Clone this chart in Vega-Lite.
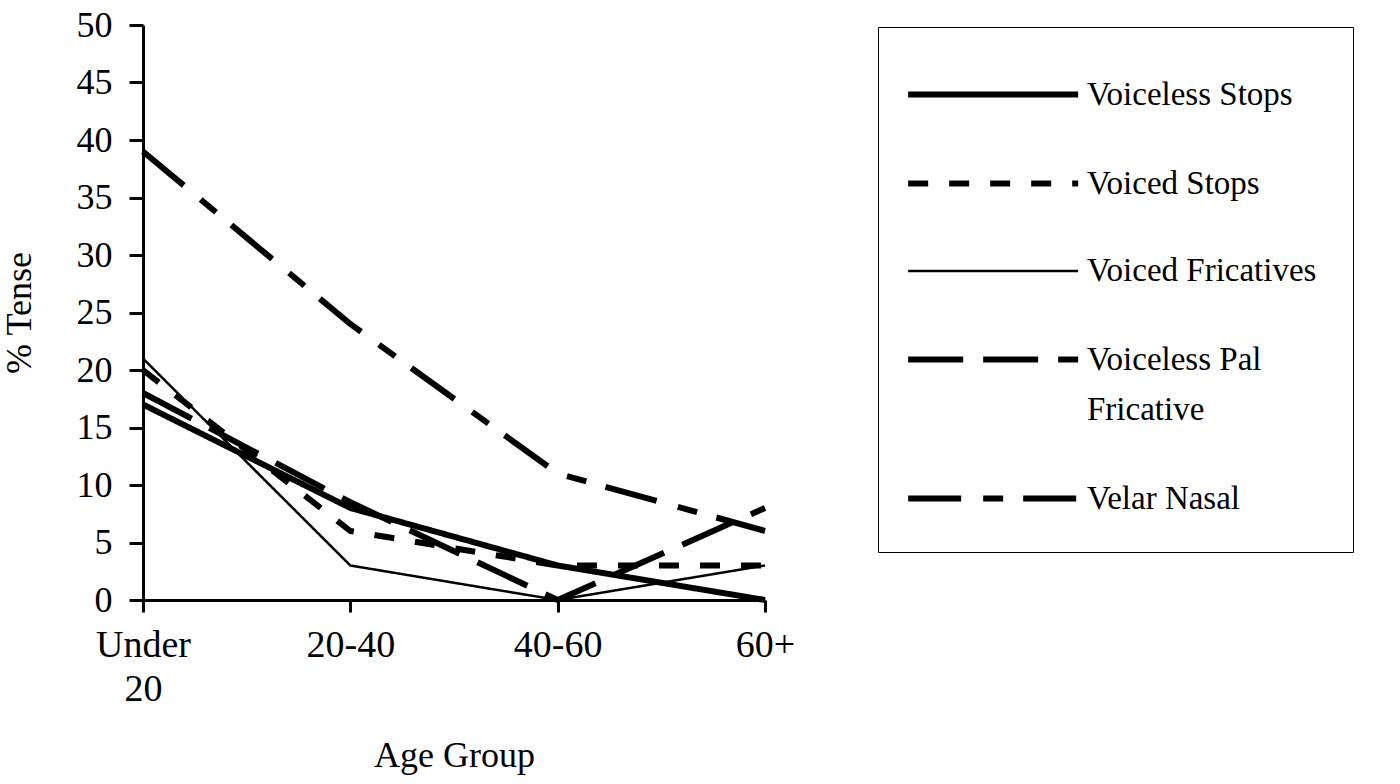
{
  "$schema": "https://vega.github.io/schema/vega-lite/v6.json",
  "width": 622,
  "height": 575,
  "autosize": {"type": "none"},
  "padding": {"left": 143, "top": 25, "right": 635, "bottom": 184},
  "background": "white",
  "config": {"view": {"stroke": null}, "font": "Liberation Serif", "style": {"guide-label": {"lineHeight": 50}}},
  "data": {
    "values": [
      {"series": "Voiceless Stops", "age": "Under 20", "pct": 17},
      {"series": "Voiceless Stops", "age": "20-40", "pct": 8},
      {"series": "Voiceless Stops", "age": "40-60", "pct": 3},
      {"series": "Voiceless Stops", "age": "60+", "pct": 0},
      {"series": "Voiced Stops", "age": "Under 20", "pct": 20},
      {"series": "Voiced Stops", "age": "20-40", "pct": 6},
      {"series": "Voiced Stops", "age": "40-60", "pct": 3},
      {"series": "Voiced Stops", "age": "60+", "pct": 3},
      {"series": "Voiced Fricatives", "age": "Under 20", "pct": 21},
      {"series": "Voiced Fricatives", "age": "20-40", "pct": 3},
      {"series": "Voiced Fricatives", "age": "40-60", "pct": 0},
      {"series": "Voiced Fricatives", "age": "60+", "pct": 3},
      {"series": "Voiceless Pal Fricative", "age": "Under 20", "pct": 18},
      {"series": "Voiceless Pal Fricative", "age": "20-40", "pct": 8.5},
      {"series": "Voiceless Pal Fricative", "age": "40-60", "pct": 0},
      {"series": "Voiceless Pal Fricative", "age": "60+", "pct": 8},
      {"series": "Velar Nasal", "age": "Under 20", "pct": 39},
      {"series": "Velar Nasal", "age": "20-40", "pct": 24},
      {"series": "Velar Nasal", "age": "40-60", "pct": 11},
      {"series": "Velar Nasal", "age": "60+", "pct": 6}
    ]
  },
  "mark": {"type": "line", "color": "black", "strokeCap": "butt", "strokeJoin": "miter"},
  "encoding": {
    "x": {
      "field": "age",
      "type": "ordinal",
      "sort": ["Under 20", "20-40", "40-60", "60+"],
      "scale": {"type": "point", "padding": 0},
      "axis": {
        "title": "Age Group",
        "titleFont": "Liberation Serif",
        "titleFontSize": 36,
        "titleFontWeight": "normal",
        "titleColor": "black",
        "titlePadding": 30,
        "labelAngle": 0,
        "labelFont": "Liberation Serif",
        "labelFontSize": 38,
        "labelColor": "black",
        "labelExpr": "split(datum.label, ' ')",
        "labelLineHeight": 44,
        "labelPadding": 14,
        "tickSize": 12,
        "tickWidth": 3,
        "tickColor": "black",
        "domainColor": "black",
        "domainWidth": 3,
        "grid": false
      }
    },
    "y": {
      "field": "pct",
      "type": "quantitative",
      "scale": {"domain": [0, 50], "nice": false},
      "axis": {
        "title": "% Tense",
        "values": [0, 5, 10, 15, 20, 25, 30, 35, 40, 45, 50],
        "titleFont": "Liberation Serif",
        "titleFontSize": 36,
        "titleFontWeight": "normal",
        "titleColor": "black",
        "titlePadding": 38,
        "labelFont": "Liberation Serif",
        "labelFontSize": 36,
        "labelColor": "black",
        "labelPadding": 17,
        "tickSize": 14,
        "tickWidth": 3,
        "tickColor": "black",
        "domainColor": "black",
        "domainWidth": 3,
        "grid": false
      }
    },
    "strokeDash": {
      "field": "series",
      "type": "nominal",
      "scale": {
        "type": "ordinal",
        "domain": ["Voiceless Stops", "Voiced Stops", "Voiced Fricatives", "Voiceless Pal Fricative", "Velar Nasal"],
        "range": [[1, 0], [20, 21], [1, 0], [55, 20], [53, 22, 20, 20]]
      },
      "legend": {
        "orient": "none",
        "legendX": 735,
        "legendY": 2,
        "title": null,
        "strokeColor": "black",
        "padding": 36,
        "symbolType": "M-1,0H5",
        "symbolSize": 3211,
        "symbolOffset": -9,
        "symbolStrokeColor": "black",
        "labelFont": "Liberation Serif",
        "labelFontSize": 33,
        "labelColor": "black",
        "labelOffset": 119,
        "labelLimit": 500,
        "labelExpr": "datum.label == 'Voiceless Pal Fricative' ? ['Voiceless Pal', 'Fricative'] : datum.label",
        "rowPadding": 40
      }
    },
    "strokeWidth": {
      "field": "series",
      "type": "nominal",
      "scale": {
        "type": "ordinal",
        "domain": ["Voiceless Stops", "Voiced Stops", "Voiced Fricatives", "Voiceless Pal Fricative", "Velar Nasal"],
        "range": [6, 6, 2.5, 6, 6]
      },
      "legend": {
        "orient": "none",
        "legendX": 735,
        "legendY": 2,
        "title": null,
        "strokeColor": "black",
        "padding": 36,
        "symbolType": "M-1,0H5",
        "symbolSize": 3211,
        "symbolOffset": -9,
        "symbolStrokeColor": "black",
        "labelFont": "Liberation Serif",
        "labelFontSize": 33,
        "labelColor": "black",
        "labelOffset": 119,
        "labelLimit": 500,
        "labelExpr": "datum.label == 'Voiceless Pal Fricative' ? ['Voiceless Pal', 'Fricative'] : datum.label",
        "rowPadding": 40
      }
    }
  }
}
